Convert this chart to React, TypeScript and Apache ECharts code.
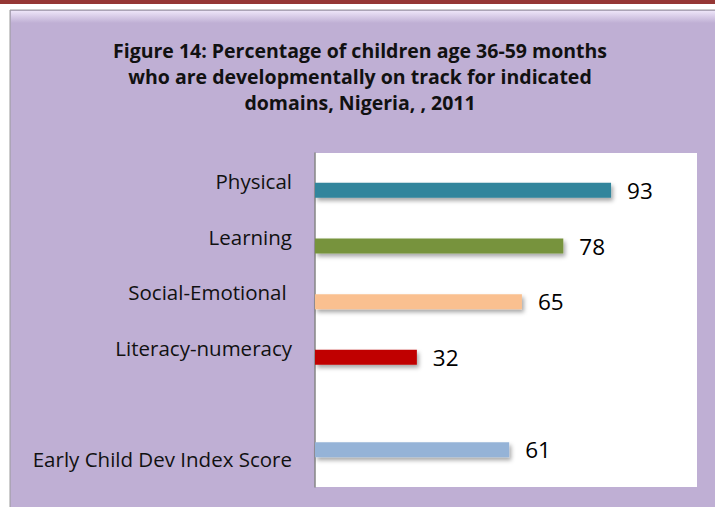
import React, { useEffect, useRef } from "react";
import * as echarts from "echarts";

const titleLines = [
  "Figure 14: Percentage of children age 36-59 months",
  "who are developmentally on track for indicated",
  "domains, Nigeria, , 2011",
];
const categories = [
  "Physical",
  "Learning",
  "Social-Emotional ",
  "Literacy-numeracy",
  "",
  "Early Child Dev Index Score",
];
const domainValues: (number | null)[] = [93, 78, 65, 32, null, null];
const indexValues: (number | null)[] = [null, null, null, null, null, 61];
const barColors = ["#31859C", "#77933C", "#FAC090", "#C00000", "#FFFFFF", "#95B3D7"];

export default function App() {
  const ref = useRef<HTMLDivElement>(null);
  useEffect(() => {
    if (!ref.current) return;
    const chart = echarts.init(ref.current, null, { renderer: "svg" });
    const font = "'Open Sans', sans-serif";
    const barStyle = (i: number) => ({
      color: barColors[i],
      shadowColor: "rgba(0,0,0,0.35)",
      shadowBlur: 4,
      shadowOffsetX: 2,
      shadowOffsetY: 3,
    });
    const label = {
      show: true,
      position: "right",
      distance: 16,
      fontFamily: font,
      fontSize: 22.5,
      color: "#000",
    };
    chart.setOption({
      animation: false,
      backgroundColor: "#FFFFFF",
      graphic: [
        { type: "rect", shape: { x: 0, y: 0, width: 715, height: 4 }, style: { fill: "#953735" }, z: -10 },
        {
          type: "rect",
          shape: { x: 10, y: 10, width: 710, height: 500 },
          style: { fill: "#BFAFD4", stroke: "#9A9A9A", lineWidth: 1 },
          z: -10,
        },
        {
          type: "rect",
          shape: { x: 11, y: 11, width: 710, height: 12 },
          style: {
            fill: new echarts.graphic.LinearGradient(0, 0, 0, 1, [
              { offset: 0, color: "#EDE4F8" },
              { offset: 1, color: "#BFAFD4" },
            ]),
          },
          z: -9,
        },
        {
          type: "text",
          x: 360,
          y: 37,
          style: {
            text: titleLines.join("\n"),
            fontFamily: font,
            fontWeight: "bold",
            fontSize: 19.5,
            lineHeight: 26,
            fill: "#111",
            align: "center",
            verticalAlign: "top",
          },
        },
      ],
      grid: {
        left: 315,
        top: 153,
        width: 382,
        height: 334,
        show: true,
        backgroundColor: "#FFFFFF",
        borderWidth: 0,
        containLabel: false,
      },
      xAxis: {
        type: "value",
        min: 0,
        max: 120,
        show: false,
        splitLine: { show: false },
      },
      yAxis: {
        type: "category",
        data: categories,
        inverse: true,
        axisLine: { show: true, lineStyle: { color: "#868686", width: 1.5 } },
        axisTick: { show: false },
        axisLabel: { margin: 23, fontFamily: font, fontSize: 20.5, color: "#111" },
        splitLine: { show: false },
      },
      series: [
        {
          type: "bar",
          name: "Index",
          data: indexValues.map((v, i) => ({ value: v, itemStyle: barStyle(i) })),
          barWidth: 15,
          barGap: "27%",
          label,
        },
        {
          type: "bar",
          name: "Domains",
          data: domainValues.map((v, i) => ({ value: v, itemStyle: barStyle(i) })),
          barWidth: 15,
          barGap: "27%",
          label,
        },
      ],
    });
    return () => chart.dispose();
  }, []);
  return (
    <div
      ref={ref}
      style={{ position: "fixed", left: 0, top: 0, width: 715, height: 507 }}
    />
  );
}
